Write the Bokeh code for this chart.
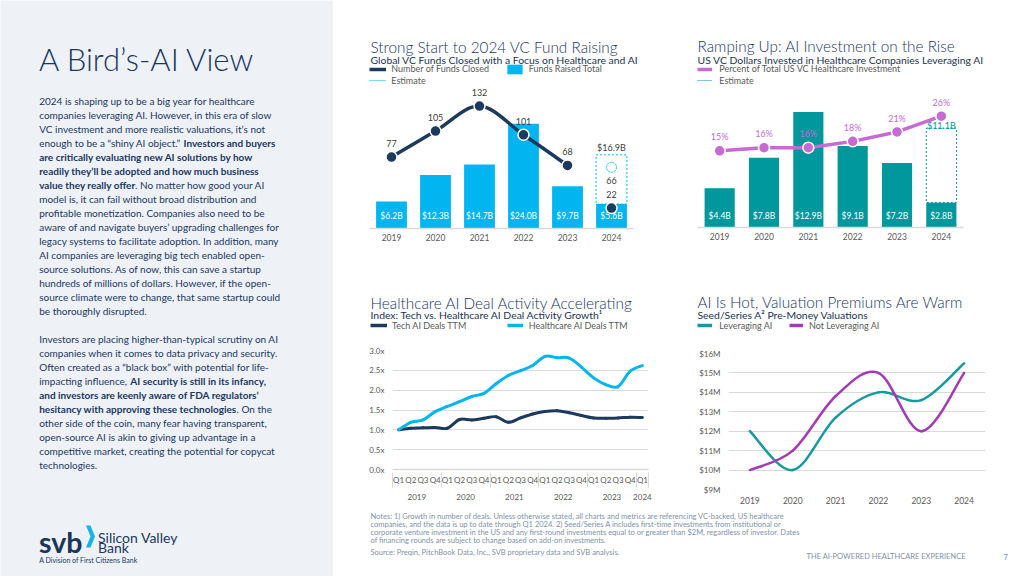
import numpy as np
from bokeh.plotting import figure
from bokeh.layouts import row, column
from bokeh.models import (Range1d, FixedTicker, Legend, LegendItem, LinearAxis,
                          PrintfTickFormatter, ColumnDataSource)
from bokeh.core.properties import value
from bokeh.embed import file_html
from bokeh.resources import INLINE

# ---------------- data ----------------
years = [2019, 2020, 2021, 2022, 2023, 2024]
funds_raised_b = [6.2, 12.3, 14.7, 24.0, 9.7, 5.6]
funds_raised_est_b = 16.9
funds_closed = [77, 105, 132, 101, 68, 22]
funds_closed_est = 66

ai_invest_b = [4.4, 7.8, 12.9, 9.1, 7.2, 2.8]
ai_invest_est_b = 11.1
ai_share_pct = [15, 16, 16, 18, 21, 26]

quarter_years = ["2019"] * 4 + ["2020"] * 4 + ["2021"] * 4 + ["2022"] * 4 + ["2023"] * 4 + ["2024"]
quarters = ["Q1", "Q2", "Q3", "Q4"] * 5 + ["Q1"]
tech_index = [1.00, 1.04, 1.05, 1.06, 1.04, 1.26, 1.25, 1.29, 1.33, 1.19, 1.30,
              1.40, 1.46, 1.48, 1.43, 1.36, 1.30, 1.29, 1.30, 1.32, 1.31]
health_index = [1.00, 1.19, 1.25, 1.46, 1.59, 1.71, 1.84, 1.92, 2.16, 2.37, 2.49,
                2.62, 2.85, 2.82, 2.81, 2.58, 2.31, 2.14, 2.09, 2.48, 2.62]
index_ticks = [0.0, 0.5, 1.0, 1.5, 2.0, 2.5, 3.0]

val_leveraging = [12.0, 10.0, 12.7, 14.0, 13.6, 15.5]
val_not_leveraging = [10.0, 11.0, 13.8, 15.0, 12.0, 15.0]
val_ticks = [9, 10, 11, 12, 13, 14, 15, 16]

# ---------------- style ----------------
FONT = "Lato"
TITLE_FONT = "Lato Light, Lato"
NAVY = "#1b365d"
SUB = "#22334d"
LINE_NAVY = "#1b3a5c"
GREY = "#595959"
DARK = "#404040"
GRID = "#d9d9d9"
CYAN = "#00b5f0"
TEAL = "#00979d"
ORCHID = "#c66bd3"
PURPLE = "#a23cb4"
TEAL2 = "#159a9f"
PANEL = "#eef2f7"
NOTE = "#7f91a8"
OFF = [-1.0e4]   # legend-only renderers sit off the canvas


def smooth(xs, ys):
    xs = np.asarray(xs, float)
    ys = np.asarray(ys, float)
    n = len(xs)
    px = np.concatenate([[xs[0]], xs, [xs[-1]]])
    py = np.concatenate([[ys[0]], ys, [ys[-1]]])
    i = np.arange(n - 1)
    return dict(x0=xs[:-1], y0=ys[:-1], x1=xs[1:], y1=ys[1:],
                cx0=xs[:-1] + (px[i + 2] - px[i]) / 6, cy0=ys[:-1] + (py[i + 2] - py[i]) / 6,
                cx1=xs[1:] - (px[i + 3] - px[i + 1]) / 6, cy1=ys[1:] - (py[i + 3] - py[i + 1]) / 6)


def curve(p, xs, ys, color, width, **kw):
    return p.bezier(source=ColumnDataSource(smooth(xs, ys)), x0="x0", y0="y0", x1="x1",
                    y1="y1", cx0="cx0", cy0="cy0", cx1="cx1", cy1="cy1", line_color=color,
                    line_width=width, line_cap="round", **kw)


def pixfig(ox, oy, w, h, bg="white"):
    """A text/legend canvas whose data units are page pixels."""
    p = figure(width=w, height=h, x_range=Range1d(ox, ox + w), y_range=Range1d(oy + h, oy),
               output_backend="svg", toolbar_location=None, tools="", min_border=0,
               x_axis_location=None, y_axis_location=None, outline_line_color=None,
               background_fill_color=bg, border_fill_color=bg, frame_align=False)
    p.grid.visible = False
    p._ox, p._oy, p._h = ox, oy, h
    return p


def txt(p, x, y, texts, size, color, style="normal", baseline="middle", align="left", font=None):
    p.text(x=x, y=y, text=texts, text_font=value(font or FONT), text_font_size=size,
           text_color=color, text_font_style=style, text_baseline=baseline, text_align=align)


def leg(h, renderer, label, icon_left, cy, gw, standoff, size="9px"):
    lh = 12
    h.add_layout(Legend(items=[LegendItem(label=label, renderers=[renderer])],
                        location=(icon_left - h._ox, h._oy + h._h - cy - lh / 2),
                        orientation="horizontal", padding=0, margin=0, spacing=0,
                        glyph_width=int(round(gw)), glyph_height=lh, label_height=lh,
                        label_width=5, label_standoff=int(round(standoff)),
                        label_text_font=FONT, label_text_font_size=size,
                        label_text_color=GREY, label_text_baseline="middle",
                        border_line_color=None, background_fill_alpha=0))


def mkfig(w, h, xr, yr, l, r, t, b, **kw):
    return figure(width=w, height=h, x_range=xr, y_range=yr, output_backend="svg",
                  toolbar_location=None, tools="", min_border_left=l, min_border_right=r,
                  min_border_top=t, min_border_bottom=b, outline_line_color=None,
                  frame_align=False, **kw)


def style_axis(ax, standoff=5, line=True, size="8.5px"):
    ax.axis_line_color = GRID if line else None
    ax.axis_line_width = 1.5
    ax.major_tick_line_color = None
    ax.minor_tick_line_color = None
    ax.major_tick_out = 0
    ax.major_tick_in = 0
    ax.minor_tick_out = 0
    ax.minor_tick_in = 0
    ax.major_label_text_font = FONT
    ax.major_label_text_font_size = size
    ax.major_label_text_color = GREY
    ax.major_label_standoff = standoff


def header(h, x, y_title, y_sub, title, subtitle):
    txt(h, [x], [y_title], [title], "15.3px", NAVY, baseline="alphabetic", font=TITLE_FONT)
    txt(h, [x], [y_sub], [subtitle], "10.4px", SUB, baseline="alphabetic")


year_labels = {y: str(y) for y in years}

# ---------------- chart 1 (page x 333-680, y 0-258) ----------------
h1 = pixfig(333, 0, 347, 84)
header(h1, 370, 46, 59, "Strong Start to 2024 VC Fund Raising",
       "Global VC Funds Closed with a Focus on Healthcare and AI")
lg_a = h1.line(x=OFF, y=OFF, line_color=LINE_NAVY, line_width=3.5)
lg_b = h1.vbar(x=OFF, top=OFF, width=1, fill_color=CYAN, line_color=None)
lg_c = h1.line(x=OFF, y=OFF, line_color=CYAN, line_width=1.2, line_dash="1 1")
leg(h1, lg_a, "Number of Funds Closed", 369.3, 68.5, 17, 5)
leg(h1, lg_b, "Funds Raised Total", 504.8, 68.5, 19, 5)
leg(h1, lg_c, "Estimate", 369.3, 80, 17, 5)

p1 = mkfig(347, 174, Range1d(2018.5, 2024.5), Range1d(0, 33.03), 36, 47, 0, 30,
           y_axis_location=None)
p1.extra_y_ranges = {"funds": Range1d(0, 155.2)}
p1.grid.visible = False
style_axis(p1.xaxis[0])
p1.xaxis.ticker = FixedTicker(ticks=years)
p1.xaxis.major_label_overrides = year_labels

p1.vbar(x=years, top=funds_raised_b, width=0.7, fill_color=CYAN, line_color=None)
p1.quad(left=[years[-1] - 0.35], right=[years[-1] + 0.35], bottom=[funds_raised_b[-1]],
        top=[funds_raised_est_b], fill_color="white", line_color=CYAN, line_dash="2 2",
        line_width=1)
p1.text(x=years, y=[0] * len(years), text=[f"${v:.1f}B" for v in funds_raised_b],
        y_offset=-12.5, text_align="center", text_baseline="middle", text_color="white",
        text_font=value(FONT), text_font_size="8.5px")
p1.text(x=[years[-1]], y=[funds_raised_est_b], text=[f"${funds_raised_est_b:.1f}B"],
        y_offset=-7, text_align="center", text_baseline="middle", text_color=DARK,
        text_font=value(FONT), text_font_size="9px")
curve(p1, years[:-1], funds_closed[:-1], LINE_NAVY, 3.5, y_range_name="funds")
p1.scatter(x=years, y=funds_closed, size=11, fill_color=LINE_NAVY, line_color="white",
           line_width=1.5, y_range_name="funds")
p1.scatter(x=[years[-1]], y=[funds_closed_est], size=10, fill_color="white",
           line_color=CYAN, line_dash="2 1", line_width=1, y_range_name="funds")
p1.text(x=years, y=funds_closed, text=[str(v) for v in funds_closed], y_offset=-13.5,
        text_align="center", text_baseline="middle", text_color=DARK,
        text_font=value(FONT), text_font_size="9px", y_range_name="funds")
p1.text(x=[years[-1]], y=[funds_closed_est], text=[str(funds_closed_est)], y_offset=13.5,
        text_align="center", text_baseline="middle", text_color=DARK,
        text_font=value(FONT), text_font_size="9px", y_range_name="funds")

# ---------------- chart 2 (page x 680-1024, y 0-258) ----------------
h2 = pixfig(680, 0, 344, 84)
header(h2, 697, 45.7, 59.3, "Ramping Up: AI Investment on the Rise",
       "US VC Dollars Invested in Healthcare Companies Leveraging AI")
lg_d = h2.line(x=OFF, y=OFF, line_color=ORCHID, line_width=3.5)
lg_e = h2.line(x=OFF, y=OFF, line_color=TEAL, line_width=1.2, line_dash="1 1")
leg(h2, lg_d, "Percent of Total US VC Healthcare Investment", 697.3, 68.7, 15, 7)
leg(h2, lg_e, "Estimate", 697.3, 80, 15, 7)

p2 = mkfig(344, 174, Range1d(2018.5, 2024.5), Range1d(0, 15.98), 17, 61, 0, 31,
           y_axis_location=None)
p2.extra_y_ranges = {"pct": Range1d(-9.39, 36.08)}
p2.grid.visible = False
style_axis(p2.xaxis[0])
p2.xaxis.ticker = FixedTicker(ticks=years)
p2.xaxis.major_label_overrides = year_labels

p2.vbar(x=years, top=ai_invest_b, width=0.68, fill_color=TEAL, line_color=None)
p2.quad(left=[years[-1] - 0.34], right=[years[-1] + 0.34], bottom=[ai_invest_b[-1]],
        top=[ai_invest_est_b], fill_color="white", line_color=TEAL, line_dash="2 2",
        line_width=1)
p2.text(x=years, y=[0] * len(years), text=[f"${v:.1f}B" for v in ai_invest_b],
        y_offset=-11.5, text_align="center", text_baseline="middle", text_color="white",
        text_font=value(FONT), text_font_size="8.5px")
p2.text(x=[years[-1]], y=[ai_invest_est_b], text=[f"${ai_invest_est_b:.1f}B"],
        y_offset=-3, text_align="center", text_baseline="middle", text_color=TEAL,
        text_font=value(FONT), text_font_size="9px")
p2.line(x=years, y=ai_share_pct, line_color=ORCHID, line_width=3.5, y_range_name="pct")
p2.scatter(x=years, y=ai_share_pct, size=11, fill_color=ORCHID, line_color="white",
           line_width=1.5, y_range_name="pct")
p2.text(x=years, y=ai_share_pct, text=[f"{v}%" for v in ai_share_pct], y_offset=-13.8,
        text_align="center", text_baseline="middle", text_color=ORCHID,
        text_font=value(FONT), text_font_size="9px", y_range_name="pct")

# ---------------- chart 3 (page x 333-680, y 258-510) ----------------
h3 = pixfig(333, 258, 347, 76)
header(h3, 370, 302.3, 314.3, "Healthcare AI Deal Activity Accelerating",
       "Index: Tech vs. Healthcare AI Deal Activity Growth\u00b9")
lg_f = h3.line(x=OFF, y=OFF, line_color=LINE_NAVY, line_width=3.5)
lg_g = h3.line(x=OFF, y=OFF, line_color=CYAN, line_width=3.5)
leg(h3, lg_f, "Tech AI Deals TTM", 370, 325.3, 17, 5)
leg(h3, lg_g, "Healthcare AI Deals TTM", 506.7, 325.3, 16, 6)

qx = list(range(len(quarters)))
year_names = list(dict.fromkeys(quarter_years))
year_centers = [float(np.mean([i for i in qx if quarter_years[i] == yname])) for yname in year_names]
year_bounds = [-0.5] + [i - 0.5 for i in qx[1:] if quarter_years[i] != quarter_years[i - 1]] + [qx[-1] + 0.5]

p3 = mkfig(347, 176, Range1d(-0.5, qx[-1] + 0.5), Range1d(0, 3.0), 59, 32, 16, 41)
p3.xgrid.visible = False
p3.ygrid.grid_line_color = GRID
p3.ygrid.ticker = FixedTicker(ticks=index_ticks)
ax3 = p3.xaxis[0]
style_axis(ax3, standoff=5, size="8px")
ax3.ticker = FixedTicker(ticks=qx)
ax3.major_label_overrides = {i: q for i, q in zip(qx, quarters)}
ax_years = LinearAxis(ticker=FixedTicker(ticks=year_centers, minor_ticks=year_bounds),
                      major_label_overrides={c: n for c, n in zip(year_centers, year_names)})
style_axis(ax_years, standoff=6, line=False, size="8px")
ax_years.minor_tick_line_color = GRID
ax_years.minor_tick_line_width = 1
ax_years.minor_tick_in = 15
p3.add_layout(ax_years, "below")
ay3 = p3.yaxis[0]
style_axis(ay3, standoff=8, line=False, size="8px")
ay3.ticker = FixedTicker(ticks=index_ticks)
ay3.formatter = PrintfTickFormatter(format="%.1fx")
curve(p3, qx, tech_index, LINE_NAVY, 3)
curve(p3, qx, health_index, CYAN, 3)

# ---------------- chart 4 (page x 680-1024, y 258-510) ----------------
h4 = pixfig(680, 258, 344, 76)
header(h4, 697, 301.7, 314.3, "AI Is Hot, Valuation Premiums Are Warm",
       "Seed/Series A\u00b2 Pre-Money Valuations")
lg_h = h4.line(x=OFF, y=OFF, line_color=TEAL2, line_width=3.5)
lg_i = h4.line(x=OFF, y=OFF, line_color=PURPLE, line_width=3.5)
leg(h4, lg_h, "Leveraging AI", 697.3, 325.3, 15, 7)
leg(h4, lg_i, "Not Leveraging AI", 789, 325.3, 14, 6)

p4 = mkfig(344, 176, Range1d(2018.5, 2024.5), Range1d(9, 16), 48, 39, 19, 21)
p4.xgrid.visible = False
p4.ygrid.grid_line_color = GRID
p4.ygrid.ticker = FixedTicker(ticks=val_ticks)
ax4 = p4.xaxis[0]
style_axis(ax4, standoff=7, line=False)
ax4.ticker = FixedTicker(ticks=years)
ax4.major_label_overrides = year_labels
ay4 = p4.yaxis[0]
style_axis(ay4, standoff=8, line=False, size="8px")
ay4.ticker = FixedTicker(ticks=val_ticks)
ay4.formatter = PrintfTickFormatter(format="$%dM")
curve(p4, years, val_leveraging, TEAL2, 2.5)
curve(p4, years, val_not_leveraging, PURPLE, 2.5)

# ---------------- left text panel (page x 0-333) ----------------
pl = pixfig(0, 0, 333, 576, bg=PANEL)
txt(pl, [38.5], [58], ["A Bird\u2019s-AI View"], "31px", NAVY, baseline="alphabetic",
    font="Lato Light, Lato")

body = [
    [("2024 is shaping up to be a big year for healthcare", 0, None)],
    [("companies leveraging AI. However, in this era of slow", 0, None)],
    [("VC investment and more realistic valuations, it\u2019s not", 0, None)],
    [("enough to be a \u201cshiny AI object.\u201d", 0, None), ("Investors and buyers", 1, 183.0)],
    [("are critically evaluating new AI solutions by how", 1, None)],
    [("readily they\u2019ll be adopted and how much business", 1, None)],
    [("value they really offer", 1, None), (". No matter how good your AI", 0, 134.6)],
    [("model is, it can fail without broad distribution and", 0, None)],
    [("profitable monetization. Companies also need to be", 0, None)],
    [("aware of and navigate buyers\u2019 upgrading challenges for", 0, None)],
    [("legacy systems to facilitate adoption. In addition, many", 0, None)],
    [("AI companies are leveraging big tech enabled open-", 0, None)],
    [("source solutions. As of now, this can save a startup", 0, None)],
    [("hundreds of millions of dollars. However, if the open-", 0, None)],
    [("source climate were to change, that same startup could", 0, None)],
    [("be thoroughly disrupted.", 0, None)],
    None,
    [("Investors are placing higher-than-typical scrutiny on AI", 0, None)],
    [("companies when it comes to data privacy and security.", 0, None)],
    [("Often created as a \u201cblack box\u201d with potential for life-", 0, None)],
    [("impacting influence,", 0, None), ("AI security is still in its infancy,", 1, 129.8)],
    [("and investors are keenly aware of FDA regulators\u2019", 1, None)],
    [("hesitancy with approving these technologies", 1, None), (". On the", 0, 236.0)],
    [("other side of the coin, many fear having transparent,", 0, None)],
    [("open-source AI is akin to giving up advantage in a", 0, None)],
    [("competitive market, creating the potential for copycat", 0, None)],
    [("technologies.", 0, None)],
]
seg = {0: dict(x=[], y=[], t=[]), 1: dict(x=[], y=[], t=[])}
yy = 100.0
for ln in body:
    if ln is None:
        yy += 13.5
        continue
    for (t, b, xs) in ln:
        seg[b]["x"].append(38.7 if xs is None else xs)
        seg[b]["y"].append(yy)
        seg[b]["t"].append(t)
    yy += 14.05
for b in (0, 1):
    txt(pl, seg[b]["x"], seg[b]["y"], seg[b]["t"], "10px", NAVY,
        style="bold" if b else "normal")

# logo
txt(pl, [38.5], [541.7], ["svb"], "28.5px", NAVY, style="bold", baseline="alphabetic")
pl.patch(x=[85.5, 90, 94.5, 90, 85.5, 90], y=[525, 525, 536, 547, 547, 536],
         fill_color="#17b4ea", line_color=None)
txt(pl, [97.5, 97.5], [536.7, 547.3], ["Silicon Valley", "Bank"], "14px", NAVY, baseline="alphabetic")
txt(pl, [38.7], [559.3], ["A Division of First Citizens Bank"], "7px", NAVY, baseline="alphabetic")

# ---------------- footer (page x 333-1024, y 510-576) ----------------
pf = pixfig(333, 510, 691, 66)
notes = [
    "Notes: 1) Growth in number of deals. Unless otherwise stated, all charts and metrics are referencing VC-backed, US healthcare",
    "companies, and the data is up to date through Q1 2024. 2) Seed/Series A includes first-time investments from institutional or",
    "corporate venture investment in the US and any first-round investments equal to or greater than $2M, regardless of investor. Dates",
    "of financing rounds are subject to change based on add-on investments.",
]
txt(pf, [370] * len(notes), [515.5 + 8 * i for i in range(len(notes))], notes, "7.5px", NOTE)
txt(pf, [370], [551.5], ["Source: Preqin, PitchBook Data, Inc., SVB proprietary data and SVB analysis."],
    "7.5px", NOTE)
txt(pf, [806, 1003], [556, 556], ["THE AI-POWERED HEALTHCARE EXPERIENCE", "7"], "7.5px", NOTE)

layout = row(pl, column(row(column(h1, p1), column(h2, p2)),
                        row(column(h3, p3), column(h4, p4)), pf))
open("out.html", "w").write(file_html(layout, INLINE, "A Bird's-AI View"))
